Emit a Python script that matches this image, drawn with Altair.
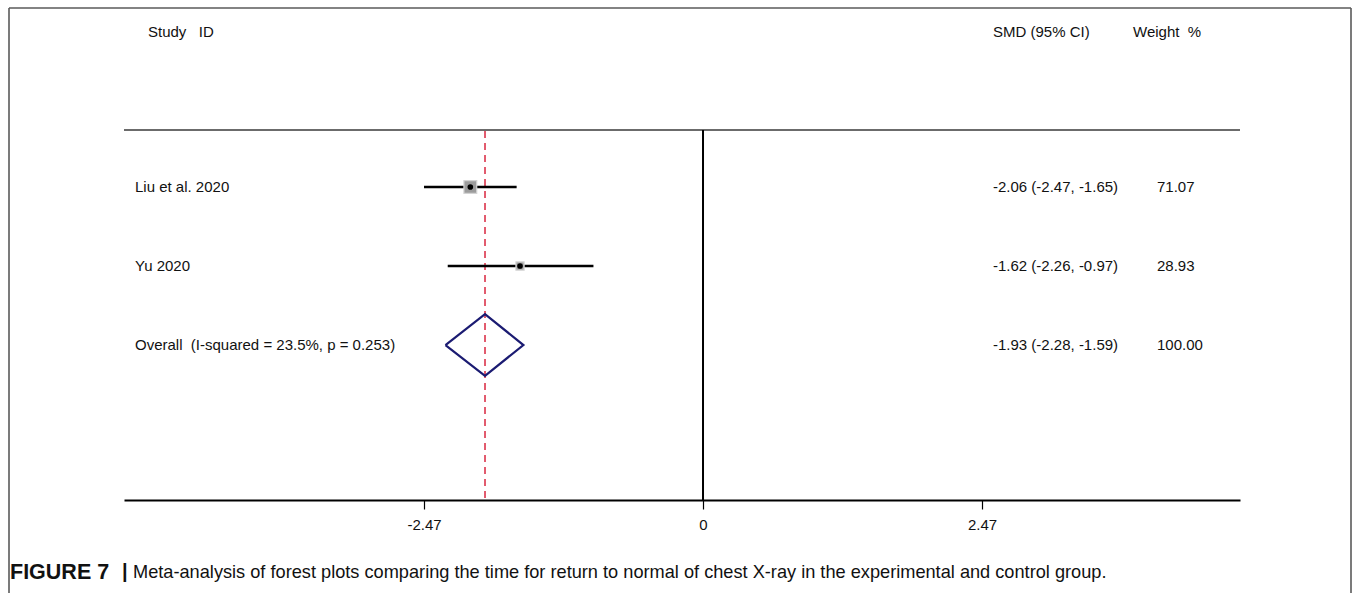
import altair as alt
import pandas as pd

# Study-level results
studies = ["Liu et al. 2020", "Yu 2020"]
smd = [-2.06, -1.62]
ci_low = [-2.47, -2.26]
ci_high = [-1.65, -0.97]
weights = [71.07, 28.93]

# Pooled estimate
overall_label = "Overall\u00a0\u00a0(I-squared = 23.5%, p = 0.253)"
overall_smd = -1.93
overall_low = -2.28
overall_high = -1.59
overall_weight = 100.00

axis_ticks = [-2.47, 0, 2.47]

FONT = "Liberation Sans"
W, H = 1116, 370
X_DOMAIN = [-5.126, 4.754]
Y_DOMAIN = [0.278, 4.962]

xs = alt.Scale(domain=X_DOMAIN, nice=False, zero=False)
ys = alt.Scale(domain=Y_DOMAIN, reverse=True, nice=False, zero=False)

# One shared axis definition so the layered x axis survives merging
xaxis = alt.Axis(
    values=axis_ticks, title=None, grid=False,
    labelExpr="datum.value == 0 ? '0' : (datum.value < 0 ? '-' : '') + format(abs(datum.value), '.2f')",
    domainColor="#000", domainWidth=2, tickColor="#000", tickWidth=1.2,
    tickSize=9, labelFontSize=15, labelFont=FONT, labelColor="#111",
    labelPadding=8)

rows = pd.DataFrame({
    "label": studies + [overall_label],
    "row": [1, 2, 3],
    "smd": smd + [overall_smd],
    "lo": ci_low + [overall_low],
    "hi": ci_high + [overall_high],
    "weight": weights + [overall_weight],
})
rows["ci_text"] = rows.apply(
    lambda r: f"{r.smd:.2f} ({r.lo:.2f}, {r.hi:.2f})", axis=1)
rows["w_text"] = rows["weight"].map(lambda v: f"{v:.2f}")

study_rows = rows.iloc[:2]

# Diamond outline for the pooled effect
half = 0.39
diamond = pd.DataFrame({
    "x": [overall_low, overall_smd, overall_high, overall_smd, overall_low],
    "y": [3, 3 - half, 3, 3 + half, 3],
    "o": [0, 1, 2, 3, 4],
})


def X(field):
    return alt.X(field, scale=xs, axis=xaxis)


def Y(field):
    return alt.Y(field, scale=ys, axis=None)


axis_layer = alt.Chart(pd.DataFrame({"x": axis_ticks})).mark_point(opacity=0).encode(
    x=X("x:Q"))

top_line = alt.Chart(pd.DataFrame({"y": [Y_DOMAIN[0]]})).mark_rule(
    color="#6b6b6b", strokeWidth=2).encode(
    y=Y("y:Q"), x=alt.value(0), x2=alt.value(W))

zero_line = alt.Chart(pd.DataFrame({"x": [0]})).mark_rule(
    color="#000", strokeWidth=2).encode(
    x=X("x:Q"), y=alt.value(0), y2=alt.value(H))

ref_line = alt.Chart(pd.DataFrame({"x": [overall_smd]})).mark_rule(
    color="#d9263f", strokeWidth=1.5, strokeDash=[7, 5]).encode(
    x=X("x:Q"), y=alt.value(1), y2=alt.value(H))

ci_lines = alt.Chart(study_rows).mark_rule(color="#000", strokeWidth=2.6).encode(
    x=X("lo:Q"), x2="hi:Q", y=Y("row:Q"))

boxes = alt.Chart(study_rows).mark_square(
    color="#9c9c9c", opacity=1, stroke="#d4d4d4", strokeWidth=1.2).encode(
    x=X("smd:Q"), y=Y("row:Q"),
    size=alt.Size("weight:Q", scale=alt.Scale(domain=[0, 100], range=[0, 230]),
                  legend=None))

dots = alt.Chart(study_rows).mark_circle(color="#000", opacity=1, size=32).encode(
    x=X("smd:Q"), y=Y("row:Q"))

diamond_layer = alt.Chart(diamond).mark_line(
    color="#1b1b72", strokeWidth=2.2, strokeJoin="miter").encode(
    x=X("x:Q"), y=Y("y:Q"), order="o:Q")

text_style = dict(font=FONT, fontSize=15, color="#111", baseline="middle", align="left")

labels = alt.Chart(rows).mark_text(**text_style).encode(
    x=alt.value(11), y=Y("row:Q"), text="label:N")
ci_col = alt.Chart(rows).mark_text(**text_style).encode(
    x=alt.value(869), y=Y("row:Q"), text="ci_text:N")
w_col = alt.Chart(rows).mark_text(**text_style).encode(
    x=alt.value(1033), y=Y("row:Q"), text="w_text:N")


def static_text(txt, px, py, **style):
    return alt.Chart(pd.DataFrame({"t": [txt]})).mark_text(**style).encode(
        x=alt.value(px), y=alt.value(py), text="t:N")


headers = [
    static_text("Study\u00a0\u00a0\u00a0ID", 24, -98, **text_style),
    static_text("SMD (95% CI)", 869, -98, **text_style),
    static_text("Weight\u00a0\u00a0%", 1009, -98, **text_style),
]


def frame_rule(x1, x2, y1, y2):
    return alt.Chart(pd.DataFrame({"k": [0]})).mark_rule(
        color="#5a5a5a", strokeWidth=1.6).encode(
        x=alt.value(x1), x2=alt.value(x2), y=alt.value(y1), y2=alt.value(y2))


# Figure frame: top edge and both sides
frame = [
    frame_rule(-115, 1227, -122, -122),
    frame_rule(-115, -115, -122, 463),
    frame_rule(1227, 1227, -122, 463),
]

cap_style = dict(font=FONT, color="#111", baseline="middle", align="left")
caption = [
    static_text("FIGURE 7", -114, 443, fontSize=21.5, fontWeight="bold", **cap_style),
    static_text("|", -2, 442, fontSize=20, fontWeight="bold", **cap_style),
    static_text(
        "Meta-analysis of forest plots comparing the time for return to normal of "
        "chest X-ray in the experimental and control group.",
        9, 443, fontSize=18.2, **cap_style),
]

chart = alt.layer(
    axis_layer, *frame, top_line, zero_line, ref_line, ci_lines, boxes, dots,
    diamond_layer, labels, ci_col, w_col, *headers, *caption,
).properties(
    width=W, height=H,
    padding={"left": 124, "top": 130, "right": 115, "bottom": 93},
    autosize=alt.AutoSizeParams(type="none"),
    background="white",
).configure_view(stroke=None)

chart.save("out.html", embed_options={"renderer": "svg", "actions": False})
